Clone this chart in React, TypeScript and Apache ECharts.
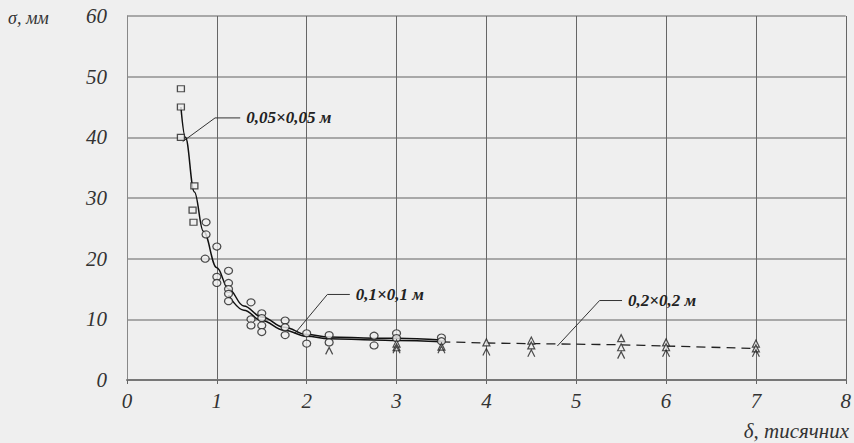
import React, { useEffect, useRef } from "react";
import * as echarts from "echarts";

const xTicks = [0, 1, 2, 3, 4, 5, 6, 7, 8];
const yTicks = [0, 10, 20, 30, 40, 50, 60];

// measured points, 0,05×0,05 m (squares)
const squares05: number[][] = [
  [0.6, 48], [0.6, 45], [0.6, 40], [0.75, 32], [0.73, 28], [0.74, 26],
];
// measured points, 0,1×0,1 m (circles)
const circles01: number[][] = [
  [0.88, 26], [0.88, 24], [0.87, 20], [1.0, 22], [1.0, 17], [1.0, 16],
  [1.13, 18], [1.13, 16], [1.13, 15], [1.13, 14.2], [1.13, 13],
  [1.38, 12.8], [1.38, 10], [1.38, 9], [1.5, 11], [1.5, 10.2], [1.5, 9], [1.5, 7.9],
  [1.76, 9.8], [1.76, 8.7], [1.76, 7.4], [2.0, 7.7], [2.0, 6],
  [2.25, 7.4], [2.25, 6.2], [2.75, 7.3], [2.75, 5.7], [3.0, 7.7], [3.0, 6.9],
  [3.5, 7.0], [3.5, 6.4],
];
// measured points, 0,2×0,2 m (triangles and carets)
const triangles02: number[][] = [
  [3.0, 6.0], [3.0, 5.4], [3.5, 5.5], [4.0, 6.2], [4.5, 6.5], [4.5, 5.7],
  [5.5, 6.9], [5.5, 5.4], [6.0, 6.2], [6.0, 5.4], [7.0, 6.0], [7.0, 5.2],
];
const carets02: number[][] = [
  [2.25, 4.8], [3.0, 5.0], [3.5, 5.0], [4.0, 4.6], [4.5, 4.4], [5.5, 4.1], [6.0, 4.4], [7.0, 4.4],
];

// fitted curves
const curve05: number[][] = [
  [0.6, 45], [0.65, 40], [0.75, 31], [0.85, 24.5], [1.0, 18.5], [1.13, 15],
  [1.3, 12.2], [1.5, 10.4], [1.75, 8.7], [2.0, 7.5], [2.25, 7.1], [2.75, 6.9], [3.0, 6.9], [3.5, 6.6],
];
const curve01: number[][] = [
  [1.13, 14], [1.3, 11.5], [1.5, 9.8], [1.75, 8.2], [2.0, 7.2], [2.25, 6.8],
  [2.75, 6.6], [3.0, 6.5], [3.5, 6.3],
];
const curve02: number[][] = [
  [3.5, 6.3], [4.0, 6.1], [4.5, 6.0], [5.0, 5.9], [5.5, 5.8], [6.0, 5.6], [7.0, 5.2],
];

// annotation leaders (data coordinates) and their texts
const leader05: number[][] = [[0.62, 39.3], [0.98, 43.2], [1.26, 43.2]];
const leader01: number[][] = [[1.87, 7.7], [2.23, 14.1], [2.48, 14.1]];
const leader02: number[][] = [[4.79, 5.6], [5.26, 13.1], [5.51, 13.1]];
const label05 = "0,05×0,05 м";
const label01 = "0,1×0,1 м";
const label02 = "0,2×0,2 м";

const yName = "σ, мм";
const xName = "δ, тисячних";

const BG = "#efefef";
const FONT = "'Liberation Serif', 'DejaVu Serif', serif";

export default function App() {
  const ref = useRef<HTMLDivElement>(null);

  useEffect(() => {
    if (!ref.current) return;
    const chart = echarts.init(ref.current, undefined, { renderer: "svg" });

    const hollow = (symbol: string, size: number | number[]) => ({
      type: "scatter",
      symbol,
      symbolSize: size,
      itemStyle: { color: BG, borderColor: "#222", borderWidth: 1.2 },
      z: 5,
    });

    const leader = (data: number[][], text: string) => ({
      type: "line",
      data,
      symbol: "none",
      silent: true,
      lineStyle: { color: "#333", width: 1 },
      endLabel: {
        show: true,
        formatter: text,
        distance: 6,
        fontFamily: FONT,
        fontStyle: "italic",
        fontWeight: "bold",
        fontSize: 17,
        color: "#222",
      },
      z: 3,
    });

    const tickLabel = {
      fontFamily: FONT,
      fontStyle: "italic",
      fontSize: 21,
      color: "#333",
    };

    chart.setOption({
      animation: false,
      backgroundColor: BG,
      grid: { left: 127, right: 7, top: 16, bottom: 63, containLabel: false },
      xAxis: {
        type: "value",
        min: xTicks[0],
        max: xTicks[xTicks.length - 1],
        interval: 1,
        axisLine: { show: true, onZero: false, lineStyle: { color: "#777", width: 2 } },
        axisTick: { show: true, length: 4, lineStyle: { color: "#666" } },
        axisLabel: { ...tickLabel, margin: 10 },
        splitLine: { show: true, lineStyle: { color: "#666", width: 1 } },
      },
      yAxis: {
        type: "value",
        min: yTicks[0],
        max: yTicks[yTicks.length - 1],
        interval: 10,
        axisLine: { show: true, lineStyle: { color: "#888", width: 1 } },
        axisTick: { show: false },
        axisLabel: { ...tickLabel, margin: 20 },
        splitLine: { show: true, lineStyle: { color: "#a8a8a8", width: 2 } },
      },
      graphic: [
        {
          type: "text",
          left: 8,
          top: 9,
          style: {
            text: yName,
            font: `italic 18px ${FONT}`,
            fill: "#333",
          },
        },
        {
          type: "text",
          right: 5,
          top: 420,
          style: {
            text: xName,
            font: `italic 21px ${FONT}`,
            fill: "#333",
          },
        },
      ],
      series: [
        {
          type: "line",
          data: curve05,
          smooth: 0.4,
          smoothMonotone: "x",
          symbol: "none",
          lineStyle: { color: "#111", width: 1.5 },
          z: 4,
        },
        {
          type: "line",
          data: curve01,
          smooth: 0.4,
          smoothMonotone: "x",
          symbol: "none",
          lineStyle: { color: "#111", width: 1.5 },
          z: 4,
        },
        {
          type: "line",
          data: curve02,
          smooth: 0.3,
          symbol: "none",
          lineStyle: { color: "#222", width: 1.3, type: [9, 6] },
          z: 4,
        },
        leader(leader05, label05),
        leader(leader01, label01),
        leader(leader02, label02),
        { ...hollow("rect", [7, 6]), data: squares05 },
        { ...hollow("circle", [8, 7]), data: circles01 },
        { ...hollow("triangle", [7, 7]), data: triangles02 },
        {
          type: "scatter",
          symbol: "path://M0,10L5,0L10,10",
          symbolSize: [7, 7],
          itemStyle: { color: "none", borderColor: "#222", borderWidth: 1.2 },
          data: carets02,
          z: 5,
        },
      ],
    });

    return () => chart.dispose();
  }, []);

  return (
    <div
      ref={ref}
      style={{ position: "absolute", left: 0, top: 0, width: 854, height: 443, background: BG }}
    />
  );
}
